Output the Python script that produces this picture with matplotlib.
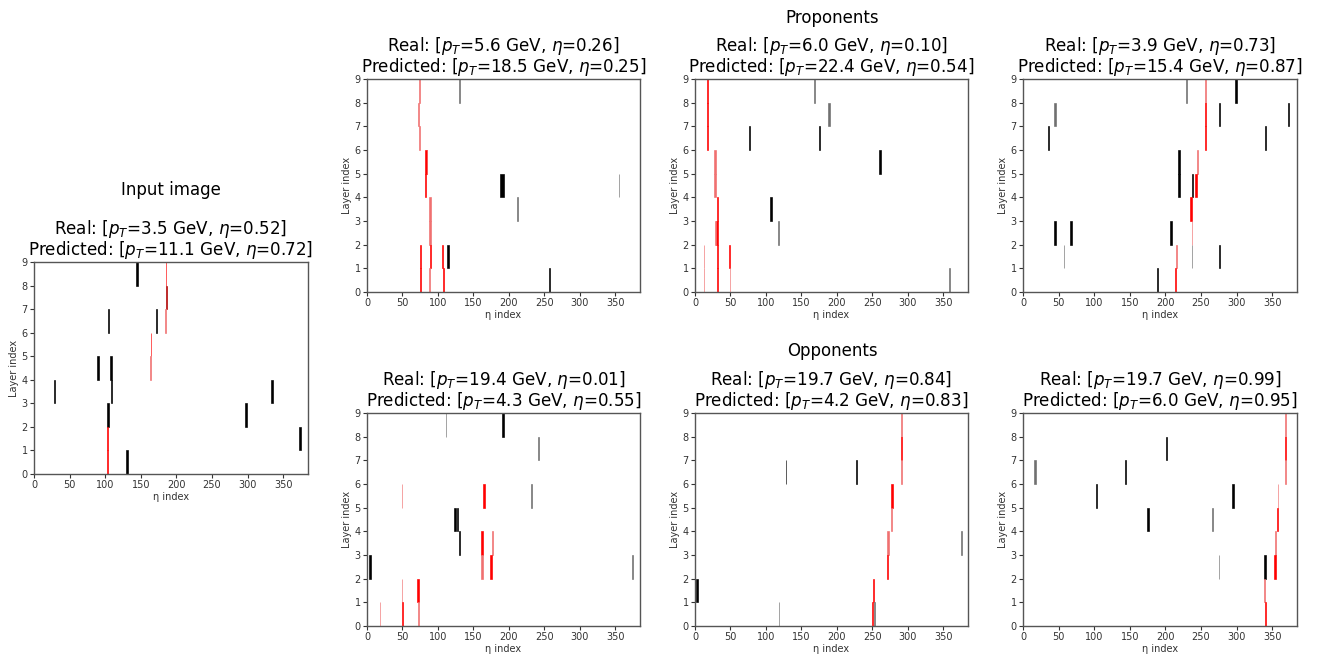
import matplotlib
matplotlib.use("Agg")
import matplotlib.pyplot as plt

# hits: (eta index, layer, n cells wide, tone)  tone: k=black, g=gray, r=red, d=dark red, p=pale red
input_hits = [(144, 8, 2, 'k'), (185, 8, 1, 'r'), (185, 7, 2, 'd'), (184, 6, 1, 'p'),
              (104, 6, 1, 'k'), (171, 6, 2, 'k'), (164, 5, 1, 'r'), (163, 4, 1, 'p'),
              (89, 4, 2, 'k'), (107, 4, 2, 'k'), (108, 3, 2, 'k'), (28, 3, 1, 'k'),
              (103, 2, 3, 'k'), (103, 1, 1, 'r'), (103, 0, 1, 'r'), (129, 0, 3, 'k'),
              (297, 2, 2, 'k'), (333, 3, 3, 'k'), (372, 1, 3, 'k')]
input_real = (3.5, 0.52)
input_pred = (11.1, 0.72)

prop1_hits = [(73, 8, 2, 'p'), (72, 7, 1, 'p'), (73, 6, 2, 'p'), (130, 8, 1, 'g'),
              (82, 5, 2, 'r'), (84, 5, 1, 'p'), (82, 4, 1, 'r'), (88, 3, 2, 'p'),
              (88, 2, 2, 'p'), (75, 1, 1, 'r'), (75, 0, 1, 'r'), (89, 1, 1, 'r'),
              (88, 0, 1, 'p'), (106, 1, 1, 'r'), (107, 0, 2, 'r'), (113, 1, 3, 'k'),
              (187, 4, 6, 'k'), (211, 3, 2, 'g'), (256, 0, 2, 'k'), (355, 4, 1, 'g')]
prop1_real = (5.6, 0.26)
prop1_pred = (18.5, 0.25)

prop2_hits = [(17, 8, 2, 'r'), (17, 7, 2, 'r'), (17, 6, 2, 'r'), (168, 8, 1, 'g'),
              (188, 7, 2, 'g'), (76, 6, 2, 'k'), (175, 6, 1, 'k'), (259, 5, 3, 'k'),
              (27, 5, 2, 'p'), (27, 4, 2, 'p'), (106, 3, 2, 'k'), (31, 3, 1, 'r'),
              (30, 2, 3, 'r'), (28, 2, 1, 'p'), (31, 1, 1, 'r'), (31, 0, 1, 'r'),
              (117, 2, 2, 'g'), (12, 1, 1, 'p'), (12, 0, 1, 'p'), (48, 1, 2, 'r'),
              (49, 0, 1, 'p'), (358, 0, 1, 'g')]
prop2_real = (6.0, 0.10)
prop2_pred = (22.4, 0.54)

prop3_hits = [(229, 8, 2, 'g'), (256, 8, 1, 'p'), (256, 7, 1, 'r'), (256, 6, 1, 'r'),
              (298, 8, 3, 'k'), (44, 7, 2, 'g'), (275, 7, 2, 'k'), (372, 7, 2, 'k'),
              (35, 6, 2, 'k'), (340, 6, 2, 'k'), (218, 5, 2, 'k'), (218, 4, 2, 'k'),
              (244, 5, 2, 'p'), (242, 4, 2, 'r'), (237, 4, 2, 'k'), (235, 3, 3, 'r'),
              (43, 2, 3, 'k'), (66, 2, 3, 'k'), (207, 2, 2, 'k'), (237, 2, 1, 'p'),
              (237, 1, 1, 'g'), (215, 1, 1, 'p'), (213, 0, 2, 'r'), (275, 1, 2, 'k'),
              (57, 1, 1, 'g'), (188, 0, 2, 'k')]
prop3_real = (3.9, 0.73)
prop3_pred = (15.4, 0.87)

opp1_hits = [(111, 8, 1, 'g'), (191, 8, 2, 'k'), (241, 7, 2, 'g'), (49, 5, 1, 'p'),
             (164, 5, 2, 'r'), (231, 5, 1, 'g'), (123, 4, 3, 'k'), (127, 4, 2, 'k'),
             (130, 3, 1, 'k'), (161, 3, 2, 'r'), (176, 3, 1, 'p'), (161, 2, 2, 'p'),
             (174, 2, 2, 'r'), (3, 2, 3, 'k'), (374, 2, 1, 'g'), (49, 1, 1, 'p'),
             (49, 0, 2, 'r'), (71, 1, 2, 'r'), (72, 0, 1, 'p'), (18, 0, 1, 'p')]
opp1_real = (19.4, 0.01)
opp1_pred = (4.3, 0.55)

opp2_hits = [(290, 8, 2, 'p'), (291, 7, 1, 'r'), (290, 6, 2, 'p'), (128, 6, 1, 'k'),
             (227, 6, 1, 'k'), (277, 5, 2, 'r'), (276, 4, 2, 'p'), (271, 3, 3, 'p'),
             (271, 2, 1, 'r'), (375, 3, 1, 'g'), (1, 1, 3, 'k'), (251, 1, 1, 'r'),
             (250, 0, 1, 'r'), (252, 0, 2, 'g'), (118, 0, 1, 'g')]
opp2_real = (19.7, 0.84)
opp2_pred = (4.2, 0.83)

opp3_hits = [(368, 8, 1, 'p'), (368, 7, 1, 'r'), (368, 6, 1, 'p'), (16, 6, 2, 'g'),
             (201, 7, 2, 'k'), (143, 6, 2, 'k'), (103, 5, 1, 'k'), (294, 5, 3, 'k'),
             (358, 5, 1, 'p'), (357, 4, 2, 'r'), (174, 4, 3, 'k'), (265, 4, 2, 'g'),
             (354, 3, 1, 'p'), (353, 2, 2, 'r'), (275, 2, 1, 'g'), (339, 2, 3, 'k'),
             (339, 1, 1, 'p'), (340, 0, 1, 'r')]
opp3_real = (19.7, 0.99)
opp3_pred = (6.0, 0.95)

tones = {'k': '#000000', 'g': '#707070', 'r': '#ff0000', 'd': '#b00000', 'p': '#f07070'}

W, H = 1320, 655
fig = plt.figure(figsize=(W / 100, H / 100), dpi=100)


def panel(x0, x1, y0, y1, hits, real, pred):
    ax = fig.add_axes([x0 / W, 1 - y1 / H, (x1 - x0) / W, (y1 - y0) / H])
    for eta, layer, n, tone in hits:
        ax.bar(eta, 1, width=n, bottom=layer, align='edge',
               color=tones[tone], edgecolor=tones[tone], linewidth=0.45)
    ax.set_xlim(0, 385)
    ax.set_ylim(0, 9)
    ax.set_xticks(range(0, 351, 50))
    ax.set_yticks(range(0, 10))
    ax.tick_params(labelsize=7, length=3, width=0.8, pad=1.5, colors='#333333')
    for s in ax.spines.values():
        s.set_color('#555555')
        s.set_linewidth(1.0)
    ax.set_xlabel('η index', fontsize=7, labelpad=1, color='#333333')
    ax.set_ylabel('Layer index', fontsize=7, labelpad=2, color='#333333')
    ax.set_title('Real: [$p_T$=%.1f GeV, $\\eta$=%.2f]\nPredicted: [$p_T$=%.1f GeV, $\\eta$=%.2f]'
                 % (real[0], real[1], pred[0], pred[1]), fontsize=12.1, pad=5,
                 linespacing=0.92)
    return ax


panel(34, 308, 262, 474, input_hits, input_real, input_pred)
cols = [(367, 640), (695, 968), (1023, 1297)]
for (x0, x1), hits, real, pred in zip(cols, [prop1_hits, prop2_hits, prop3_hits],
                                      [prop1_real, prop2_real, prop3_real],
                                      [prop1_pred, prop2_pred, prop3_pred]):
    panel(x0, x1, 79, 292, hits, real, pred)
for (x0, x1), hits, real, pred in zip(cols, [opp1_hits, opp2_hits, opp3_hits],
                                      [opp1_real, opp2_real, opp3_real],
                                      [opp1_pred, opp2_pred, opp3_pred]):
    panel(x0, x1, 413, 626, hits, real, pred)

fig.text(171 / W, 1 - 190 / H, 'Input image', ha='center', va='center', fontsize=12)
fig.text(832 / W, 1 - 18 / H, 'Proponents', ha='center', va='center', fontsize=12)
fig.text(832 / W, 1 - 351 / H, 'Opponents', ha='center', va='center', fontsize=12)

fig.savefig('out.png', dpi=100)
